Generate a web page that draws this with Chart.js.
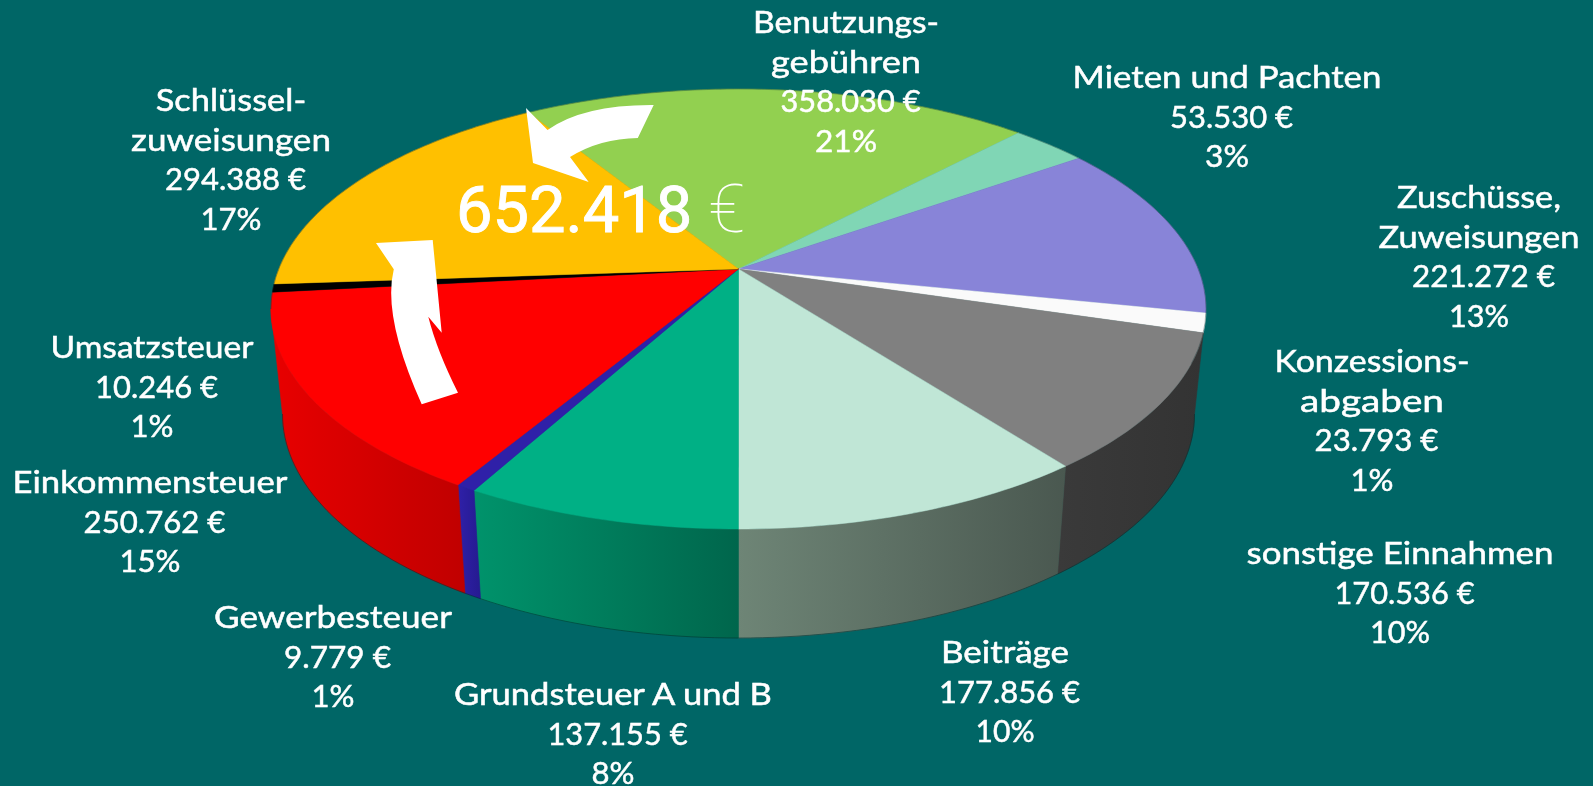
<!DOCTYPE html>
<html lang="de">
<head>
<meta charset="utf-8">
<title>Einnahmen</title>
<script src="https://cdn.jsdelivr.net/npm/chart.js@4"></script>
<style>
html,body{margin:0;padding:0;background:#006666;overflow:hidden;width:1593px;height:786px}
#wrap{position:relative;width:1593px;height:786px}
canvas{position:absolute;left:0;top:0}
svg{position:absolute;left:0;top:0}
text{fill:#fff;font-family:Lato,"Open Sans",sans-serif;font-size:31px;stroke:#fff;stroke-width:.5px}
.big{font-family:Roboto,sans-serif;font-size:65px;stroke-width:.9px}
.big tspan{stroke:none;font-size:67px;font-weight:100}
</style>
</head>
<body>
<div id="wrap">
<canvas id="c" width="1593" height="786"></canvas>
<svg id="ov" width="1593" height="786" viewBox="0 0 1593 786"></svg>
</div>
<script>
// ---- data ----
const categories = ['Benutzungs-\ngebühren','Mieten und Pachten','Zuschüsse,\nZuweisungen','Konzessions-\nabgaben','sonstige Einnahmen','Beiträge','Grundsteuer A und B','Gewerbesteuer','Einkommensteuer','Umsatzsteuer','Schlüssel-\nzuweisungen'];
const amounts = [358030,53530,221272,23793,170536,177856,137155,9779,250762,10246,294388];
const highlightTotal = '652.418';

// ---- styles ----
const topColors = ['#92d050','#80d6b5','#8884d8','#fafafa','#808080','#c0e6d6','#00b085','#2f20a8','#ff0000','#000000','#ffc000'];
const wallColors = [null,null,null,null,['#3a3a3a','#333333'],['#6e8576','#4a5850'],['#00936b','#00664c'],['#2f20a8','#251a90'],['#e80000','#c00000'],null,null];
// [centre x, first baseline]
const labelPlaces = [[846,33],[1227,88],[1479,208],[1372,372],[1400,564],[1005,663],[613,705],[333,628],[150,493],[152,358],[231,111]];
// rendered width of every line of each label
const lineWidths = [[186,150,140,62],[309,123,44],[164,201,143,60],[195,144,124,43],[307,140,60],[128,141,59],[318,140,43],[238,107,43],[275,142,61],[203,123,43],[150.5,200,141,61]];
const LINE = 39.6, VALUE_SHIFT = 4.5;

// perspective geometry of the pie disc
const G = {cx:738.5, cy:309, a:467.5, b:220, d:-0.182, lowCy:414, lowA:456, lowB:224};
const sq = Math.sqrt(1 - G.d*G.d);
function rimNorm(t){const u=Math.cos(t),v=Math.sin(t),den=1+G.d*v;return [u*sq/den,(v+G.d)/den];}
function rimPhi(t){const n=rimNorm(t);let f=Math.atan2(n[1],n[0]);if(f<-Math.PI/2)f+=2*Math.PI;return f;}
function topPt(f){return [G.cx+G.a*Math.cos(f),G.cy+G.b*Math.sin(f)];}
function lowPt(f){return [G.cx+G.lowA*Math.cos(f),G.lowCy+G.lowB*Math.sin(f)];}
function trace(ctx,pts){pts.forEach((p,i)=>i?ctx.lineTo(p[0],p[1]):ctx.moveTo(p[0],p[1]));}

const pie3d = {
  id:'pie3d',
  beforeDatasetsDraw(chart){
    const ctx = chart.ctx, arcs = chart.getDatasetMeta(0).data;
    ctx.save();
    // side wall
    arcs.forEach((arc,i)=>{
      const cols = wallColors[i]; if(!cols) return;
      const f1 = rimPhi(arc.startAngle), f2 = rimPhi(arc.endAngle);
      const lo = Math.max(f1,0), hi = Math.min(f2,Math.PI);
      if(hi<=lo) return;
      const lowLo = lo < 0.2 ? 0 : lo;
      const pts=[];
      for(let k=0;k<=60;k++) pts.push(topPt(lo+(hi-lo)*k/60));
      for(let k=60;k>=0;k--) pts.push(lowPt(lowLo+(hi-lowLo)*k/60));
      const xs=pts.map(p=>p[0]);
      const g=ctx.createLinearGradient(Math.min(...xs),0,Math.max(...xs),0);
      g.addColorStop(0,cols[0]);g.addColorStop(1,cols[1]);
      ctx.beginPath();trace(ctx,pts);ctx.closePath();
      ctx.fillStyle=g;ctx.strokeStyle=g;ctx.lineWidth=.6;ctx.fill();ctx.stroke();
    });
    // outer lower edge
    ctx.beginPath();
    const edge=[];for(let k=0;k<=120;k++)edge.push(lowPt(Math.PI*k/120));
    trace(ctx,edge);ctx.strokeStyle='rgba(0,50,50,.55)';ctx.lineWidth=1;ctx.stroke();
    // top face
    const ax=G.cx, ay=G.cy+G.d*G.b;
    arcs.forEach((arc,i)=>{
      const pts=[[ax,ay]];
      const n=Math.max(4,Math.ceil((arc.endAngle-arc.startAngle)*60));
      for(let k=0;k<=n;k++){
        const r=rimNorm(arc.startAngle+(arc.endAngle-arc.startAngle)*k/n);
        pts.push([G.cx+G.a*r[0],G.cy+G.b*r[1]]);
      }
      ctx.beginPath();trace(ctx,pts);ctx.closePath();
      ctx.fillStyle=arc.options.backgroundColor;ctx.strokeStyle=arc.options.backgroundColor;ctx.lineWidth=.5;
      ctx.fill();ctx.stroke();
    });
    ctx.beginPath();ctx.ellipse(G.cx,G.cy,G.a,G.b,0,Math.PI,2.08*Math.PI);
    ctx.strokeStyle='rgba(20,50,50,.4)';ctx.lineWidth=.8;ctx.stroke();
    ctx.restore();
    return false;
  }
};

new Chart(document.getElementById('c'),{
  type:'pie',
  data:{labels:categories,datasets:[{data:amounts,backgroundColor:topColors,borderWidth:0}]},
  options:{responsive:false,animation:false,rotation:-31.9,events:[],
    plugins:{legend:{display:false},tooltip:{enabled:false}}},
  plugins:[pie3d]
});

// ---- overlay: labels, total and arrows ----
const NS='http://www.w3.org/2000/svg', ov=document.getElementById('ov');
function el(n,a,p){const e=document.createElementNS(NS,n);for(const k in a)e.setAttribute(k,a[k]);(p||ov).appendChild(e);return e;}
const total = amounts.reduce((a,b)=>a+b,0);
const fmt = v=>v.toLocaleString('de-DE')+' €';
categories.forEach((name,i)=>{
  const [cx,y0]=labelPlaces[i];
  const g=el('g',{});
  const lines=name.split('\n');
  const all=[...lines,fmt(amounts[i]),Math.round(amounts[i]/total*100)+'%'];
  all.forEach((txt,j)=>{
    const t=el('text',{x:0,y:0,'text-anchor':'middle'},g);
    t.textContent=txt;
    const s=lineWidths[i][j]/t.getComputedTextLength();
    const shift=(j===all.length-2)?VALUE_SHIFT:0;
    t.setAttribute('transform',`translate(${cx+shift},${y0+j*LINE}) scale(${s},1)`);
  });
});
el('path',{fill:'#fff',d:'M526 108 L547.5 130 Q583.4 104.5 653.7 105 L637.8 138 Q600 138.5 570 157 L588.7 182 L533 163 Z'});
el('path',{fill:'#fff',d:'M376 243 L432.7 240 L441.7 332.7 L428.3 316.7 Q437 351 458 392.7 L421.7 404.3 Q382.2 316.6 393.8 269.3 Z'});
const big=el('text',{class:'big',x:456,y:232});
big.textContent=highlightTotal+' ';
const eu=el('tspan',{},big);eu.textContent='€';
</script>
</body>
</html>
